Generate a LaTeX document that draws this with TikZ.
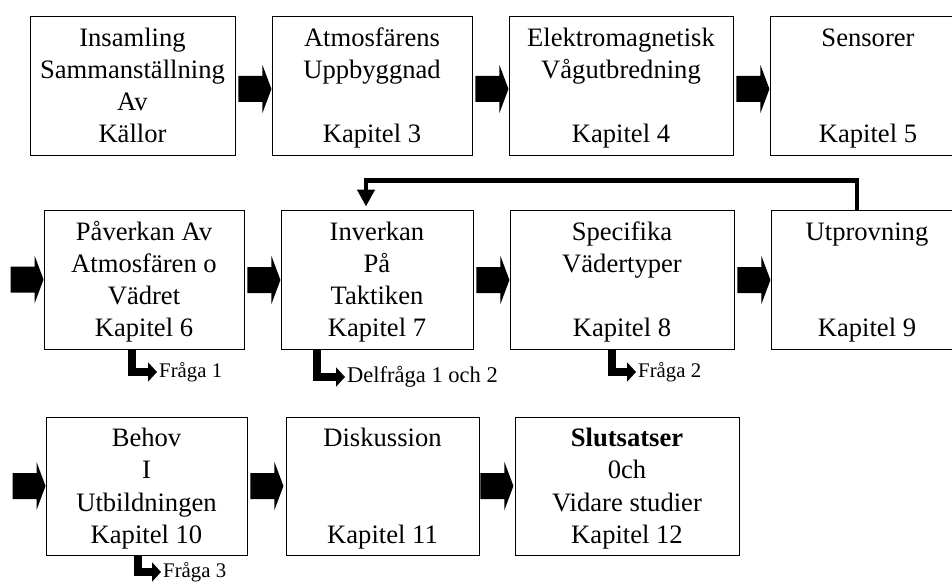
\documentclass[tikz,border=0pt]{standalone}
\usepackage{fontspec}
\setmainfont{Liberation Serif}
\usetikzlibrary{arrows.meta,calc}
\newcommand\bt[4]{\rule{0pt}{25.1pt}#1\\#2\\#3\\#4\rule[-7.2pt]{0pt}{0pt}}
\tikzset{
  box/.style={draw, line width=0.9pt, inner sep=0pt, align=center,
    font=\fontsize{26.6}{32.3}\selectfont},
  barrow/.pic={\fill (0,-13)--(24,-13)--(24,-24)--(33,0)--(24,24)--(24,13)--(0,13)--cycle;},
  bent/.style={line width=8pt, -{Triangle[width=19pt,length=9pt]}},
  fb/.style={line width=4.5pt, -{Triangle[width=17pt,length=17pt]}},
  qlabel/.style={anchor=west, inner sep=2pt, font=\fontsize{20.8}{24}\selectfont}
}
\begin{document}
\begin{tikzpicture}[x=1pt,y=-1pt]
\useasboundingbox (0,0) rectangle (952,583);
% row 1
\node[box, minimum width=205pt, minimum height=139pt] (b1) at (132.5,85.5) {\bt{Insamling}{Sammanställning}{Av}{Källor}};
\node[box, minimum width=200pt, minimum height=139pt] (b2) at (372,85.5) {\bt{Atmosfärens}{Uppbyggnad}{\mbox{}}{Kapitel 3}};
\node[box, minimum width=224pt, minimum height=139pt] (b3) at (621,85.5) {\bt{Elektromagnetisk}{Vågutbredning}{\mbox{}}{Kapitel 4}};
\node[box, minimum width=196pt, minimum height=139pt] (b4) at (868,85.5) {\bt{Sensorer}{\mbox{}}{\mbox{}}{Kapitel 5}};
% row 2
\node[box, minimum width=200pt, minimum height=139pt] (b5) at (144,279.5) {\bt{Påverkan Av}{Atmosfären o}{Vädret}{Kapitel 6}};
\node[box, minimum width=192pt, minimum height=139pt] (b6) at (377,279.5) {\bt{Inverkan}{På}{Taktiken}{Kapitel 7}};
\node[box, minimum width=224pt, minimum height=139pt] (b7) at (622,279.5) {\bt{Specifika}{Vädertyper}{\mbox{}}{Kapitel 8}};
\node[box, minimum width=192pt, minimum height=139pt] (b8) at (867,279.5) {\bt{Utprovning}{\mbox{}}{\mbox{}}{Kapitel 9}};
% row 3
\node[box, minimum width=201pt, minimum height=138pt] (b9) at (146.5,486) {\bt{Behov}{I}{Utbildningen}{Kapitel 10}};
\node[box, minimum width=193pt, minimum height=138pt] (b10) at (382.5,486) {\bt{Diskussion}{\mbox{}}{\mbox{}}{Kapitel 11}};
\node[box, minimum width=224pt, minimum height=138pt] (b11) at (627,486) {\bt{\textbf{Slutsatser}}{0ch}{Vidare studier}{Kapitel 12}};
% block arrows
\pic at ($(b1.east)+(3,3.5)$) {barrow};
\pic at ($(b2.east)+(3,3.5)$) {barrow};
\pic at ($(b3.east)+(3,3.5)$) {barrow};
\pic at ($(b5.west)+(-33,0)$) {barrow};
\pic at ($(b5.east)+(3,0.5)$) {barrow};
\pic at ($(b6.east)+(3,0.5)$) {barrow};
\pic at ($(b7.east)+(3,0.5)$) {barrow};
\pic at ($(b9.west)+(-33,0)$) {barrow};
\pic at ($(b9.east)+(3,0)$) {barrow};
\pic at ($(b10.east)+(1,0)$) {barrow};
% feedback
\draw[fb] ($(b8.north)+(-10,0)$) -- ($(b8.north)+(-10,-29)$) -| ($(b6.north)+(-11,-3)$);
% question labels
\node[qlabel] (q1) at (157,372) {Fråga 1};
\node[qlabel, font=\fontsize{22.5}{26}\selectfont] (q2) at (345,377) {Delfråga 1 och 2};
\node[qlabel] (q3) at (636,372) {Fråga 2};
\node[qlabel] (q4) at (161,572) {Fråga 3};
\draw[bent] ($(b5.south)+(-12.5,0)$) |- (q1.west);
\draw[bent] ($(b6.south)+(-60.5,0)$) |- (q2.west);
\draw[bent] ($(b7.south)+(-10.5,0)$) |- (q3.west);
\draw[bent] ($(b9.south)+(-8.5,0)$) |- (q4.west);
\end{tikzpicture}
\end{document}
